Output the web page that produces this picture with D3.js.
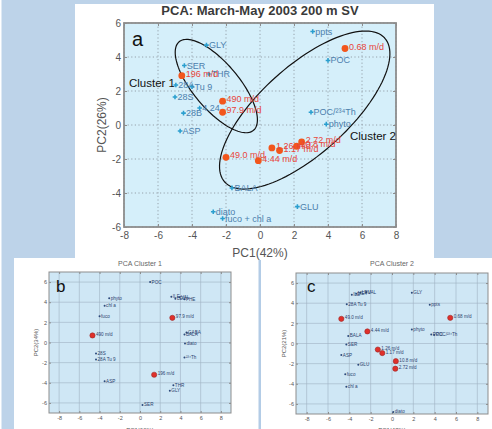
<!DOCTYPE html>
<html>
<head>
<meta charset="utf-8">
<script src="https://cdn.jsdelivr.net/npm/d3@7"></script>
<style>
  body { margin: 0; background: #bdd3e9; }
  text { font-family: "Liberation Sans", Arial, sans-serif; }
</style>
</head>
<body>
<svg id="fig" width="492" height="429"></svg>
<script>
// --- Data ---
var mainTicksX = [-8, -6, -4, -2, 0, 2, 4, 6, 8];
var mainTicksY = [-6, -4, -2, 0, 2, 4, 6];
var subTicksX = [-8, -6, -4, -2, 0, 2, 4, 6, 8];
var subTicksY = [-6, -4, -2, 0, 2, 4, 6];

// [label, PC1, PC2]
var mainVars = [
  ["ppts", 3.1, 5.5], ["POC", 4.0, 3.8], ["POC/²³⁴Th", 3.0, 0.75], ["phyto", 3.9, 0.05],
  ["GLY", -3.15, 4.7], ["SER", -4.45, 3.5], ["THR", -3.0, 3.0], ["28A", -4.95, 2.35],
  ["Tu 9", -4.0, 2.25], ["28S", -5.0, 1.65], ["28B", -4.5, 0.7], ["4.24", -3.55, 1.0],
  ["ASP", -4.7, -0.35], ["BALA", -1.65, -3.7], ["GLU", 2.2, -4.8], ["diato", -2.75, -5.1],
  ["fuco + chl a", -2.2, -5.5]
];
var mainStations = [
  ["0.68 m/d", 5.0, 4.5], ["196 m/d", -4.6, 2.9], ["490 m/d", -2.2, 1.4], ["97.9 m/d", -2.2, 0.75],
  ["49.0 m/d", -2.0, -1.9], ["4.44 m/d", -0.1, -2.1], ["1.26 m/d", 0.7, -1.35], ["1.17 m/d", 1.15, -1.5],
  ["10.8 m/d", 2.15, -1.25], ["2.72 m/d", 2.45, -1.0]
];
// [name, centre PC1, centre PC2, semi-major, semi-minor, angle deg]
var clusterEllipses = [
  ["Cluster 1", -2.57, 2.29, 3.4, 1.35, -50],
  ["Cluster 2", 2.63, 0.88, 6.33, 2.58, 42]
];

var cluster1Vars = [
  ["POC", 1.0, 6.0], ["phyto", -3.05, 4.4], ["chl a", -3.5, 3.65], ["fuco", -4.0, 2.6],
  ["28S", -4.35, -1.1], ["28A Tu 9", -4.35, -1.7], ["ASP", -3.5, -3.85], ["SER", 0.25, -6.2],
  ["THR", 3.3, -4.25], ["GLY", 2.95, -4.8], ["ILE", 3.1, 4.55], ["LEU", 3.5, 4.35],
  ["VAL", 3.9, 4.5], ["PHE", 4.4, 4.3], ["BALA", 4.4, 0.8], ["GABA", 4.6, 1.0],
  ["diato", 4.45, -0.1], ["²³⁴Th", 4.4, -1.5]
];
var cluster1Stations = [["490 m/d", -4.7, 0.7], ["97.9 m/d", 3.2, 2.45], ["196 m/d", 1.4, -3.2]];

var cluster2Vars = [
  ["ILE", -3.77, 4.85], ["MET", -3.35, 4.95], ["LEU", -2.97, 5.05], ["VAL", -2.41, 5.1],
  ["28A Tu 9", -4.24, 3.9], ["BALA", -4.1, 0.75], ["SER", -4.28, -0.1], ["ASP", -4.75, -1.15],
  ["GLU", -3.16, -2.1], ["fuco", -4.38, -3.05], ["chl a", -4.28, -4.3], ["diato", 0.12, -6.8],
  ["GLY", 1.86, 5.05], ["ppts", 3.54, 3.85], ["phyto", 1.86, 1.4], ["POC", 3.68, 0.9],
  ["POC/²³⁴Th", 3.96, 0.85]
];
var cluster2Stations = [
  ["49.0 m/d", -4.75, 2.45], ["4.44 m/d", -2.31, 1.2], ["1.26 m/d", -1.33, -0.6], ["1.17 m/d", -0.91, -0.95],
  ["10.8 m/d", 0.36, -1.75], ["2.72 m/d", 0.31, -2.5], ["0.68 m/d", 5.46, 2.55]
];

var svg = d3.select("#fig");

// --- page background / white cards ---
svg.append("rect").attr("width", 492).attr("height", 429).attr("fill", "#bdd3e9");
svg.append("rect").attr("width", 1.5).attr("height", 429).attr("fill", "#fff");
svg.append("rect").attr("x", 75).attr("y", 4).attr("width", 359).attr("height", 256).attr("fill", "#fff");
svg.append("rect").attr("x", 14).attr("y", 258).attr("width", 478).attr("height", 171).attr("fill", "#fff");
svg.append("rect").attr("x", 258.5).attr("y", 260).attr("width", 2.5).attr("height", 169).attr("fill", "#b3cce6");

// draws frame, grid and axes, returns scales
function drawPanel(p) {
  var g = svg.append("g");
  var x = d3.scaleLinear().domain(p.xDomain).range([p.left, p.right]);
  var y = d3.scaleLinear().domain(p.yDomain).range([p.bottom, p.top]);

  g.append("rect")
    .attr("x", p.left).attr("y", p.top)
    .attr("width", p.right - p.left).attr("height", p.bottom - p.top)
    .attr("fill", p.bg);

  // grid
  g.append("g").selectAll("line").data(p.xTicks).join("line")
    .attr("x1", d => x(d)).attr("x2", d => x(d))
    .attr("y1", p.top).attr("y2", p.bottom)
    .attr("stroke", p.grid).attr("stroke-width", p.gridWidth)
    .attr("stroke-dasharray", p.gridDash);
  g.append("g").selectAll("line").data(p.yTicks).join("line")
    .attr("x1", p.left).attr("x2", p.right)
    .attr("y1", d => y(d)).attr("y2", d => y(d))
    .attr("stroke", p.grid).attr("stroke-width", p.gridWidth)
    .attr("stroke-dasharray", p.gridDash);

  var fmt = d => String(d);
  var axes = [
    g.append("g").attr("transform", "translate(0," + p.bottom + ")")
      .call(d3.axisBottom(x).tickValues(p.xTicks).tickFormat(fmt).tickSize(-p.tick).tickPadding(p.padX)),
    g.append("g").attr("transform", "translate(" + p.left + ",0)")
      .call(d3.axisLeft(y).tickValues(p.yTicks).tickFormat(fmt).tickSize(-p.tick).tickPadding(p.padY)),
    g.append("g").attr("transform", "translate(0," + p.top + ")")
      .call(d3.axisTop(x).tickValues(p.xTicks).tickFormat("").tickSize(-p.tick)),
    g.append("g").attr("transform", "translate(" + p.right + ",0)")
      .call(d3.axisRight(y).tickValues(p.yTicks).tickFormat("").tickSize(-p.tick))
  ];
  axes.forEach(a => {
    a.select(".domain").remove();
    a.selectAll(".tick line").attr("stroke", p.frame);
    a.selectAll("text").attr("font-size", p.tickFont).attr("fill", p.tickColor)
      .attr("font-family", "Liberation Sans, Arial, sans-serif");
  });

  g.append("rect")
    .attr("x", p.left).attr("y", p.top)
    .attr("width", p.right - p.left).attr("height", p.bottom - p.top)
    .attr("fill", "none").attr("stroke", p.frame).attr("stroke-width", p.frameWidth);

  // titles
  g.append("text").attr("x", (p.left + p.right) / 2).attr("y", p.titleY)
    .attr("text-anchor", "middle").attr("font-size", p.titleFont)
    .attr("font-weight", p.titleWeight).attr("fill", p.titleColor).text(p.title);
  g.append("text").attr("x", (p.left + p.right) / 2).attr("y", p.xLabelY)
    .attr("text-anchor", "middle").attr("font-size", p.labelFont)
    .attr("fill", p.tickColor).text(p.xLabel);
  g.append("text")
    .attr("transform", "translate(" + p.yLabelX + "," + ((p.top + p.bottom) / 2) + ") rotate(-90)")
    .attr("text-anchor", "middle").attr("font-size", p.labelFont)
    .attr("fill", p.tickColor).text(p.yLabel);
  g.append("text").attr("x", p.letterX).attr("y", p.letterY)
    .attr("font-size", p.letterFont).attr("fill", "#111").text(p.letter);

  return {g: g, x: x, y: y};
}

// --- Panel a ---
var a = drawPanel({
  left: 124, right: 396, top: 23, bottom: 227,
  xDomain: [-8, 8], yDomain: [-6, 6], xTicks: mainTicksX, yTicks: mainTicksY,
  bg: "#d5effa", grid: "#8f9aa3", gridWidth: 0.9, gridDash: "1.2,2.4",
  tick: 3, padX: 5, padY: 3, tickFont: 10, tickColor: "#555",
  frame: "#8d8d8d", frameWidth: 1.8,
  title: "PCA: March-May 2003 200 m SV", titleY: 15, titleFont: 13, titleWeight: "bold", titleColor: "#3a3a3a",
  xLabel: "PC1(42%)", xLabelY: 257, yLabel: "PC2(26%)", yLabelX: 106, labelFont: 12,
  letter: "a", letterX: 132, letterY: 46, letterFont: 20
});

// cluster ellipses, drawn in data space
var ellipseLine = d3.line().x(d => a.x(d[0])).y(d => a.y(d[1])).curve(d3.curveLinearClosed);
clusterEllipses.forEach(e => {
  var th = e[5] * Math.PI / 180;
  var pts = d3.range(0, 120).map(i => {
    var t = i / 120 * 2 * Math.PI;
    var dx = e[3] * Math.cos(t), dy = e[4] * Math.sin(t);
    return [e[1] + dx * Math.cos(th) - dy * Math.sin(th), e[2] + dx * Math.sin(th) + dy * Math.cos(th)];
  });
  a.g.append("path").attr("d", ellipseLine(pts))
    .attr("fill", "none").attr("stroke", "#111").attr("stroke-width", 1.2);
});
a.g.append("text").attr("x", 129).attr("y", 87).attr("font-size", 11.5).attr("fill", "#111").text("Cluster 1");
a.g.append("text").attr("x", 350).attr("y", 140).attr("font-size", 11.5).attr("fill", "#111").text("Cluster 2");

a.g.append("g").selectAll("path").data(mainVars).join("path")
  .attr("d", d3.symbol(d3.symbolCross, 12))
  .attr("transform", d => "translate(" + a.x(d[1]) + "," + a.y(d[2]) + ")")
  .attr("fill", "#2b9fcf");
a.g.append("g").selectAll("text").data(mainVars).join("text")
  .attr("x", d => a.x(d[1]) + 2.5).attr("y", d => a.y(d[2]) + 3)
  .attr("font-size", 9).attr("fill", "#4c80ad").text(d => d[0]);

a.g.append("g").selectAll("circle").data(mainStations).join("circle")
  .attr("cx", d => a.x(d[1])).attr("cy", d => a.y(d[2])).attr("r", 3.4)
  .attr("fill", "#f2561c");
a.g.append("g").selectAll("text").data(mainStations).join("text")
  .attr("x", d => a.x(d[1]) + 4).attr("y", d => a.y(d[2]) + 1)
  .attr("font-size", 9).attr("fill", "#e8453a").text(d => d[0]);

// --- Panels b and c ---
function drawCluster(opt, vars, stations) {
  var p = drawPanel(Object.assign({
    xDomain: [-9, 9], yDomain: [-7, 7], xTicks: subTicksX, yTicks: subTicksY,
    bg: "#cfe7f5", grid: "#9fb2c2", gridWidth: 0.6, gridDash: null,
    tick: 2, padX: 3, padY: 2, tickFont: 5.5, tickColor: "#555",
    frame: "#8d8d8d", frameWidth: 1,
    titleY: 266, titleFont: 7, titleWeight: "normal", titleColor: "#666",
    xLabelY: 432, labelFont: 6, letterY: 292, letterFont: 17
  }, opt));

  p.g.append("g").selectAll("circle").data(vars).join("circle")
    .attr("cx", d => p.x(d[1])).attr("cy", d => p.y(d[2])).attr("r", 1)
    .attr("fill", "#2d4a7c");
  p.g.append("g").selectAll("text").data(vars).join("text")
    .attr("x", d => p.x(d[1]) + 1.5).attr("y", d => p.y(d[2]) + 1.5)
    .attr("font-size", 4.6).attr("fill", "#2b3f6e").text(d => d[0]);

  p.g.append("g").selectAll("circle").data(stations).join("circle")
    .attr("cx", d => p.x(d[1])).attr("cy", d => p.y(d[2])).attr("r", 2.6)
    .attr("fill", "#e0302a").attr("stroke", "#9a2a2a").attr("stroke-width", 0.6);
  p.g.append("g").selectAll("text").data(stations).join("text")
    .attr("x", d => p.x(d[1]) + 3.5).attr("y", d => p.y(d[2]) + 0.5)
    .attr("font-size", 4.6).attr("fill", "#2b3f6e").text(d => d[0]);
}

drawCluster({
  left: 49, right: 231, top: 272, bottom: 413,
  title: "PCA Cluster 1", xLabel: "PC1(66%)", yLabel: "PC2(34%)", yLabelX: 38,
  letter: "b", letterX: 56
}, cluster1Vars, cluster1Stations);

drawCluster({
  left: 296, right: 488, top: 273, bottom: 414,
  title: "PCA Cluster 2", xLabel: "PC1(48%)", yLabel: "PC2(21%)", yLabelX: 286,
  letter: "c", letterX: 307
}, cluster2Vars, cluster2Stations);
</script>
</body>
</html>
